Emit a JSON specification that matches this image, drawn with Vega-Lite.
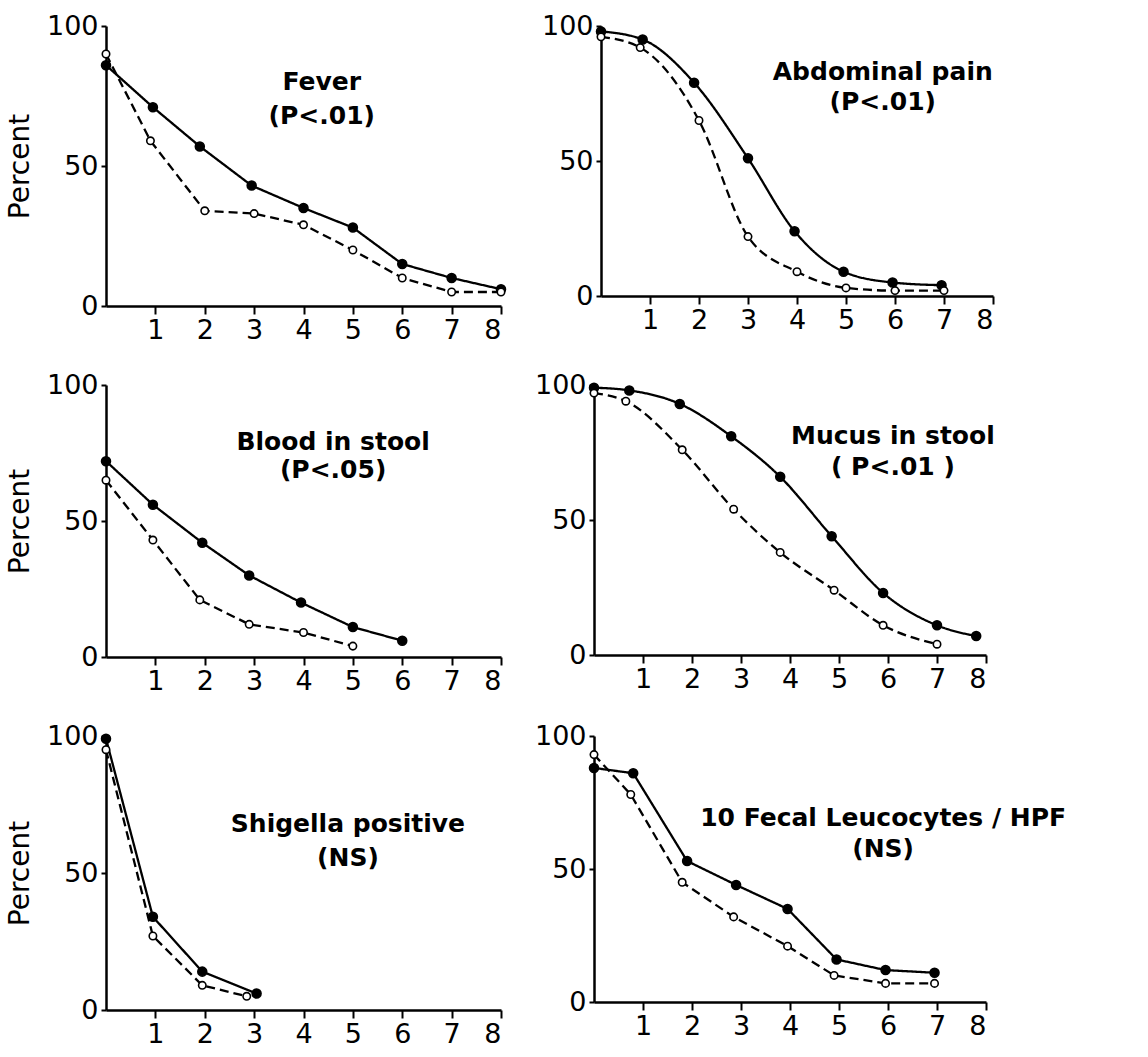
{
  "$schema": "https://vega.github.io/schema/vega-lite/v6.json",
  "background": "white",
  "padding": {"left": 6, "top": 12, "right": 5, "bottom": 3},
  "datasets": {
    "curves": [
      {"panel": "Fever", "series": "solid", "day": 0, "pct": 86},
      {"panel": "Fever", "series": "solid", "day": 0.95, "pct": 71},
      {"panel": "Fever", "series": "solid", "day": 1.9, "pct": 57},
      {"panel": "Fever", "series": "solid", "day": 2.95, "pct": 43},
      {"panel": "Fever", "series": "solid", "day": 4, "pct": 35},
      {"panel": "Fever", "series": "solid", "day": 5, "pct": 28},
      {"panel": "Fever", "series": "solid", "day": 6, "pct": 15},
      {"panel": "Fever", "series": "solid", "day": 7, "pct": 10},
      {"panel": "Fever", "series": "solid", "day": 8, "pct": 6},
      {"panel": "Fever", "series": "open", "day": 0, "pct": 90},
      {"panel": "Fever", "series": "open", "day": 0.9, "pct": 59},
      {"panel": "Fever", "series": "open", "day": 2, "pct": 34},
      {"panel": "Fever", "series": "open", "day": 3, "pct": 33},
      {"panel": "Fever", "series": "open", "day": 4, "pct": 29},
      {"panel": "Fever", "series": "open", "day": 5, "pct": 20},
      {"panel": "Fever", "series": "open", "day": 6, "pct": 10},
      {"panel": "Fever", "series": "open", "day": 7, "pct": 5},
      {"panel": "Fever", "series": "open", "day": 8, "pct": 5},
      {"panel": "Abdominal", "series": "solid", "day": 0, "pct": 98},
      {"panel": "Abdominal", "series": "solid", "day": 0.85, "pct": 95},
      {"panel": "Abdominal", "series": "solid", "day": 1.9, "pct": 79},
      {"panel": "Abdominal", "series": "solid", "day": 3, "pct": 51},
      {"panel": "Abdominal", "series": "solid", "day": 3.95, "pct": 24},
      {"panel": "Abdominal", "series": "solid", "day": 4.95, "pct": 9},
      {"panel": "Abdominal", "series": "solid", "day": 5.95, "pct": 5},
      {"panel": "Abdominal", "series": "solid", "day": 6.95, "pct": 4},
      {"panel": "Abdominal", "series": "open", "day": 0, "pct": 96},
      {"panel": "Abdominal", "series": "open", "day": 0.8, "pct": 92},
      {"panel": "Abdominal", "series": "open", "day": 2, "pct": 65},
      {"panel": "Abdominal", "series": "open", "day": 3, "pct": 22},
      {"panel": "Abdominal", "series": "open", "day": 4, "pct": 9},
      {"panel": "Abdominal", "series": "open", "day": 5, "pct": 3},
      {"panel": "Abdominal", "series": "open", "day": 6, "pct": 2},
      {"panel": "Abdominal", "series": "open", "day": 7, "pct": 2},
      {"panel": "Blood", "series": "solid", "day": 0, "pct": 72},
      {"panel": "Blood", "series": "solid", "day": 0.95, "pct": 56},
      {"panel": "Blood", "series": "solid", "day": 1.95, "pct": 42},
      {"panel": "Blood", "series": "solid", "day": 2.9, "pct": 30},
      {"panel": "Blood", "series": "solid", "day": 3.95, "pct": 20},
      {"panel": "Blood", "series": "solid", "day": 5, "pct": 11},
      {"panel": "Blood", "series": "solid", "day": 6, "pct": 6},
      {"panel": "Blood", "series": "open", "day": 0, "pct": 65},
      {"panel": "Blood", "series": "open", "day": 0.95, "pct": 43},
      {"panel": "Blood", "series": "open", "day": 1.9, "pct": 21},
      {"panel": "Blood", "series": "open", "day": 2.9, "pct": 12},
      {"panel": "Blood", "series": "open", "day": 4, "pct": 9},
      {"panel": "Blood", "series": "open", "day": 5, "pct": 4},
      {"panel": "Mucus", "series": "solid", "day": 0, "pct": 99},
      {"panel": "Mucus", "series": "solid", "day": 0.72, "pct": 98},
      {"panel": "Mucus", "series": "solid", "day": 1.75, "pct": 93},
      {"panel": "Mucus", "series": "solid", "day": 2.8, "pct": 81},
      {"panel": "Mucus", "series": "solid", "day": 3.8, "pct": 66},
      {"panel": "Mucus", "series": "solid", "day": 4.85, "pct": 44},
      {"panel": "Mucus", "series": "solid", "day": 5.9, "pct": 23},
      {"panel": "Mucus", "series": "solid", "day": 7, "pct": 11},
      {"panel": "Mucus", "series": "solid", "day": 7.8, "pct": 7},
      {"panel": "Mucus", "series": "open", "day": 0, "pct": 97},
      {"panel": "Mucus", "series": "open", "day": 0.65, "pct": 94},
      {"panel": "Mucus", "series": "open", "day": 1.8, "pct": 76},
      {"panel": "Mucus", "series": "open", "day": 2.85, "pct": 54},
      {"panel": "Mucus", "series": "open", "day": 3.8, "pct": 38},
      {"panel": "Mucus", "series": "open", "day": 4.9, "pct": 24},
      {"panel": "Mucus", "series": "open", "day": 5.9, "pct": 11},
      {"panel": "Mucus", "series": "open", "day": 7, "pct": 4},
      {"panel": "Shigella", "series": "solid", "day": 0, "pct": 99},
      {"panel": "Shigella", "series": "solid", "day": 0.95, "pct": 34},
      {"panel": "Shigella", "series": "solid", "day": 1.95, "pct": 14},
      {"panel": "Shigella", "series": "solid", "day": 3.05, "pct": 6},
      {"panel": "Shigella", "series": "open", "day": 0, "pct": 95},
      {"panel": "Shigella", "series": "open", "day": 0.95, "pct": 27},
      {"panel": "Shigella", "series": "open", "day": 1.95, "pct": 9},
      {"panel": "Shigella", "series": "open", "day": 2.85, "pct": 5},
      {"panel": "Fecal", "series": "solid", "day": 0, "pct": 88},
      {"panel": "Fecal", "series": "solid", "day": 0.8, "pct": 86},
      {"panel": "Fecal", "series": "solid", "day": 1.9, "pct": 53},
      {"panel": "Fecal", "series": "solid", "day": 2.9, "pct": 44},
      {"panel": "Fecal", "series": "solid", "day": 3.95, "pct": 35},
      {"panel": "Fecal", "series": "solid", "day": 4.95, "pct": 16},
      {"panel": "Fecal", "series": "solid", "day": 5.95, "pct": 12},
      {"panel": "Fecal", "series": "solid", "day": 6.95, "pct": 11},
      {"panel": "Fecal", "series": "open", "day": 0, "pct": 93},
      {"panel": "Fecal", "series": "open", "day": 0.75, "pct": 78},
      {"panel": "Fecal", "series": "open", "day": 1.8, "pct": 45},
      {"panel": "Fecal", "series": "open", "day": 2.85, "pct": 32},
      {"panel": "Fecal", "series": "open", "day": 3.95, "pct": 21},
      {"panel": "Fecal", "series": "open", "day": 4.9, "pct": 10},
      {"panel": "Fecal", "series": "open", "day": 5.95, "pct": 7},
      {"panel": "Fecal", "series": "open", "day": 6.95, "pct": 7}
    ]
  },
  "vconcat": [
    {
      "hconcat": [
        {
          "width": 395, "height": 280,
          "layer": [
            {"data": {"name": "curves"}, "transform": [{"filter": "datum.panel === 'Fever'"}],
             "mark": {"type": "line", "color": "black", "strokeWidth": 2.3},
             "encoding": {
               "x": {"field": "day", "type": "quantitative", "scale": {"domain": [0, 8], "nice": false}, "axis": {"values": [1,2,3,4,5,6,7,8], "title": null, "tickSize": 8, "labelPadding": 3}},
               "y": {"field": "pct", "type": "quantitative", "scale": {"domain": [0, 100], "nice": false}, "axis": {"values": [0,50,100], "title": "Percent", "tickSize": 5, "labelPadding": 3, "titlePadding": 12}},
               "strokeDash": {"field": "series", "type": "nominal", "scale": {"domain": ["solid", "open"], "range": [[1,0],[9,5]]}, "legend": null}
             }},
            {"data": {"name": "curves"}, "transform": [{"filter": "datum.panel === 'Fever'"}],
             "mark": {"type": "point", "shape": "circle", "filled": true, "stroke": "black", "strokeWidth": 1.6, "opacity": 1},
             "encoding": {
               "x": {"field": "day", "type": "quantitative"},
               "y": {"field": "pct", "type": "quantitative"},
               "fill": {"field": "series", "type": "nominal", "scale": {"domain": ["solid", "open"], "range": ["black", "white"]}, "legend": null},
               "size": {"field": "series", "type": "nominal", "scale": {"domain": ["solid", "open"], "range": [80, 55]}, "legend": null}
             }},
            {"data": {"values": [{}]},
             "mark": {"type": "text", "fontSize": 25, "fontWeight": "bold", "lineHeight": 34, "align": "center", "baseline": "middle", "color": "black"},
             "encoding": {"x": {"datum": 4.37}, "y": {"datum": 80}, "text": {"value": ["Fever", "(P<.01)"]}}}
          ]
        },
        {
          "width": 392, "height": 270,
          "layer": [
            {"data": {"name": "curves"}, "transform": [{"filter": "datum.panel === 'Abdominal'"}],
             "mark": {"type": "line", "color": "black", "strokeWidth": 2.3, "interpolate": "monotone"},
             "encoding": {
               "x": {"field": "day", "type": "quantitative", "scale": {"domain": [0, 8], "nice": false}, "axis": {"values": [1,2,3,4,5,6,7,8], "title": null, "tickSize": 8, "labelPadding": 3}},
               "y": {"field": "pct", "type": "quantitative", "scale": {"domain": [0, 100], "nice": false}, "axis": {"values": [0,50,100], "title": null, "tickSize": 5, "labelPadding": 3}},
               "strokeDash": {"field": "series", "type": "nominal", "scale": {"domain": ["solid", "open"], "range": [[1,0],[9,5]]}, "legend": null}
             }},
            {"data": {"name": "curves"}, "transform": [{"filter": "datum.panel === 'Abdominal'"}],
             "mark": {"type": "point", "shape": "circle", "filled": true, "stroke": "black", "strokeWidth": 1.6, "opacity": 1},
             "encoding": {
               "x": {"field": "day", "type": "quantitative"},
               "y": {"field": "pct", "type": "quantitative"},
               "fill": {"field": "series", "type": "nominal", "scale": {"domain": ["solid", "open"], "range": ["black", "white"]}, "legend": null},
               "size": {"field": "series", "type": "nominal", "scale": {"domain": ["solid", "open"], "range": [80, 55]}, "legend": null}
             }},
            {"data": {"values": [{}]},
             "mark": {"type": "text", "fontSize": 25, "fontWeight": "bold", "lineHeight": 30, "align": "center", "baseline": "middle", "color": "black"},
             "encoding": {"x": {"datum": 5.75}, "y": {"datum": 83}, "text": {"value": ["Abdominal pain", "(P<.01)"]}}}
          ]
        }
      ],
      "spacing": 32
    },
    {
      "hconcat": [
        {
          "width": 395, "height": 272,
          "layer": [
            {"data": {"name": "curves"}, "transform": [{"filter": "datum.panel === 'Blood'"}],
             "mark": {"type": "line", "color": "black", "strokeWidth": 2.3},
             "encoding": {
               "x": {"field": "day", "type": "quantitative", "scale": {"domain": [0, 8], "nice": false}, "axis": {"values": [1,2,3,4,5,6,7,8], "title": null, "tickSize": 8, "labelPadding": 3}},
               "y": {"field": "pct", "type": "quantitative", "scale": {"domain": [0, 100], "nice": false}, "axis": {"values": [0,50,100], "title": "Percent", "tickSize": 5, "labelPadding": 3, "titlePadding": 12}},
               "strokeDash": {"field": "series", "type": "nominal", "scale": {"domain": ["solid", "open"], "range": [[1,0],[9,5]]}, "legend": null}
             }},
            {"data": {"name": "curves"}, "transform": [{"filter": "datum.panel === 'Blood'"}],
             "mark": {"type": "point", "shape": "circle", "filled": true, "stroke": "black", "strokeWidth": 1.6, "opacity": 1},
             "encoding": {
               "x": {"field": "day", "type": "quantitative"},
               "y": {"field": "pct", "type": "quantitative"},
               "fill": {"field": "series", "type": "nominal", "scale": {"domain": ["solid", "open"], "range": ["black", "white"]}, "legend": null},
               "size": {"field": "series", "type": "nominal", "scale": {"domain": ["solid", "open"], "range": [80, 55]}, "legend": null}
             }},
            {"data": {"values": [{}]},
             "mark": {"type": "text", "fontSize": 25, "fontWeight": "bold", "lineHeight": 28, "align": "center", "baseline": "middle", "color": "black"},
             "encoding": {"x": {"datum": 4.6}, "y": {"datum": 79}, "text": {"value": ["Blood in stool", "(P<.05)"]}}}
          ]
        },
        {
          "width": 392, "height": 270,
          "layer": [
            {"data": {"name": "curves"}, "transform": [{"filter": "datum.panel === 'Mucus'"}],
             "mark": {"type": "line", "color": "black", "strokeWidth": 2.3, "interpolate": "monotone"},
             "encoding": {
               "x": {"field": "day", "type": "quantitative", "scale": {"domain": [0, 8], "nice": false}, "axis": {"values": [1,2,3,4,5,6,7,8], "title": null, "tickSize": 8, "labelPadding": 3}},
               "y": {"field": "pct", "type": "quantitative", "scale": {"domain": [0, 100], "nice": false}, "axis": {"values": [0,50,100], "title": null, "tickSize": 5, "labelPadding": 3}},
               "strokeDash": {"field": "series", "type": "nominal", "scale": {"domain": ["solid", "open"], "range": [[1,0],[9,5]]}, "legend": null}
             }},
            {"data": {"name": "curves"}, "transform": [{"filter": "datum.panel === 'Mucus'"}],
             "mark": {"type": "point", "shape": "circle", "filled": true, "stroke": "black", "strokeWidth": 1.6, "opacity": 1},
             "encoding": {
               "x": {"field": "day", "type": "quantitative"},
               "y": {"field": "pct", "type": "quantitative"},
               "fill": {"field": "series", "type": "nominal", "scale": {"domain": ["solid", "open"], "range": ["black", "white"]}, "legend": null},
               "size": {"field": "series", "type": "nominal", "scale": {"domain": ["solid", "open"], "range": [80, 55]}, "legend": null}
             }},
            {"data": {"values": [{}]},
             "mark": {"type": "text", "fontSize": 25, "fontWeight": "bold", "lineHeight": 31, "align": "center", "baseline": "middle", "color": "black"},
             "encoding": {"x": {"datum": 6.1}, "y": {"datum": 81}, "text": {"value": ["Mucus in stool", "( P<.01 )"]}}}
          ]
        }
      ],
      "spacing": 32
    },
    {
      "hconcat": [
        {
          "width": 395, "height": 274,
          "layer": [
            {"data": {"name": "curves"}, "transform": [{"filter": "datum.panel === 'Shigella'"}],
             "mark": {"type": "line", "color": "black", "strokeWidth": 2.3},
             "encoding": {
               "x": {"field": "day", "type": "quantitative", "scale": {"domain": [0, 8], "nice": false}, "axis": {"values": [1,2,3,4,5,6,7,8], "title": null, "tickSize": 8, "labelPadding": 3}},
               "y": {"field": "pct", "type": "quantitative", "scale": {"domain": [0, 100], "nice": false}, "axis": {"values": [0,50,100], "title": "Percent", "tickSize": 5, "labelPadding": 3, "titlePadding": 12}},
               "strokeDash": {"field": "series", "type": "nominal", "scale": {"domain": ["solid", "open"], "range": [[1,0],[9,5]]}, "legend": null}
             }},
            {"data": {"name": "curves"}, "transform": [{"filter": "datum.panel === 'Shigella'"}],
             "mark": {"type": "point", "shape": "circle", "filled": true, "stroke": "black", "strokeWidth": 1.6, "opacity": 1},
             "encoding": {
               "x": {"field": "day", "type": "quantitative"},
               "y": {"field": "pct", "type": "quantitative"},
               "fill": {"field": "series", "type": "nominal", "scale": {"domain": ["solid", "open"], "range": ["black", "white"]}, "legend": null},
               "size": {"field": "series", "type": "nominal", "scale": {"domain": ["solid", "open"], "range": [80, 55]}, "legend": null}
             }},
            {"data": {"values": [{}]},
             "mark": {"type": "text", "fontSize": 25, "fontWeight": "bold", "lineHeight": 34, "align": "center", "baseline": "middle", "color": "black"},
             "encoding": {"x": {"datum": 4.9}, "y": {"datum": 68}, "text": {"value": ["Shigella positive", "(NS)"]}}}
          ]
        },
        {
          "width": 392, "height": 266,
          "layer": [
            {"data": {"name": "curves"}, "transform": [{"filter": "datum.panel === 'Fecal'"}],
             "mark": {"type": "line", "color": "black", "strokeWidth": 2.3},
             "encoding": {
               "x": {"field": "day", "type": "quantitative", "scale": {"domain": [0, 8], "nice": false}, "axis": {"values": [1,2,3,4,5,6,7,8], "title": null, "tickSize": 8, "labelPadding": 3}},
               "y": {"field": "pct", "type": "quantitative", "scale": {"domain": [0, 100], "nice": false}, "axis": {"values": [0,50,100], "title": null, "tickSize": 5, "labelPadding": 3}},
               "strokeDash": {"field": "series", "type": "nominal", "scale": {"domain": ["solid", "open"], "range": [[1,0],[9,5]]}, "legend": null}
             }},
            {"data": {"name": "curves"}, "transform": [{"filter": "datum.panel === 'Fecal'"}],
             "mark": {"type": "point", "shape": "circle", "filled": true, "stroke": "black", "strokeWidth": 1.6, "opacity": 1},
             "encoding": {
               "x": {"field": "day", "type": "quantitative"},
               "y": {"field": "pct", "type": "quantitative"},
               "fill": {"field": "series", "type": "nominal", "scale": {"domain": ["solid", "open"], "range": ["black", "white"]}, "legend": null},
               "size": {"field": "series", "type": "nominal", "scale": {"domain": ["solid", "open"], "range": [80, 55]}, "legend": null}
             }},
            {"data": {"values": [{}]},
             "mark": {"type": "text", "fontSize": 25, "fontWeight": "bold", "lineHeight": 31, "align": "center", "baseline": "middle", "color": "black"},
             "encoding": {"x": {"datum": 5.9}, "y": {"datum": 69}, "text": {"value": ["10 Fecal Leucocytes / HPF", "(NS)"]}}}
          ]
        }
      ],
      "spacing": 32
    }
  ],
  "spacing": 28,
  "config": {
    "font": "DejaVu Sans",
    "view": {"stroke": null},
    "axis": {
      "grid": false,
      "domainColor": "black",
      "domainWidth": 2.5,
      "tickColor": "black",
      "tickWidth": 2,
      "labelColor": "black",
      "labelFont": "DejaVu Sans",
      "labelFontSize": 27,
      "titleFont": "DejaVu Sans",
      "titleFontSize": 28,
      "titleFontWeight": "normal",
      "titleColor": "black"
    }
  }
}
